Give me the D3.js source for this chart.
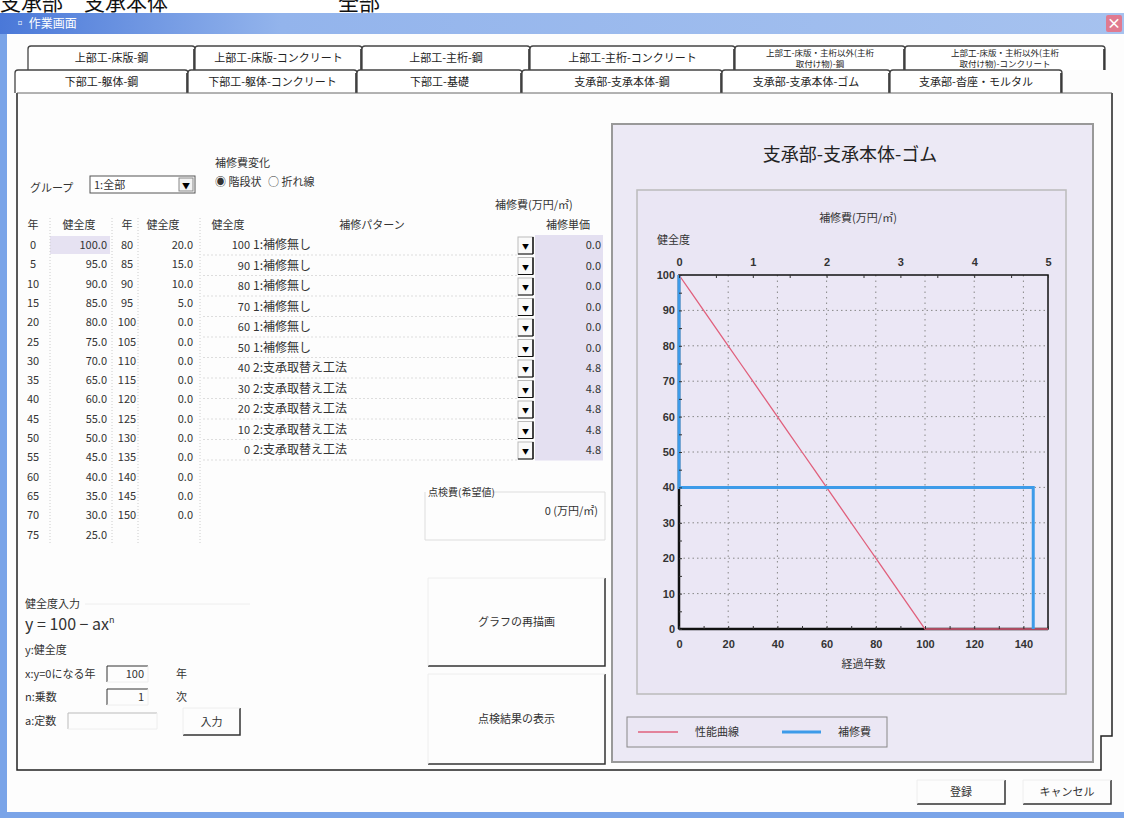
<!DOCTYPE html>
<html>
<head>
<meta charset="utf-8">
<script src="https://cdn.jsdelivr.net/npm/d3@7"></script>
<style>
  body { margin: 0; background: #fff; }
  svg { display: block; font-family: "Noto Sans CJK JP", "Noto Sans", sans-serif; }
  .ui { font-size: 11px; fill: #333; }
</style>
</head>
<body>
<div id="chart"></div>
<script>
// 健全度の推移（年・健全度）
const years = [0, 5, 10, 15, 20, 25, 30, 35, 40, 45, 50, 55, 60, 65, 70, 75,
               80, 85, 90, 95, 100, 105, 110, 115, 120, 125, 130, 135, 140, 145, 150];
const health = [100, 95, 90, 85, 80, 75, 70, 65, 60, 55, 50, 45, 40, 35, 30, 25,
                20, 15, 10, 5, 0, 0, 0, 0, 0, 0, 0, 0, 0, 0, 0];

// 補修パターン
const repairLevels = [100, 90, 80, 70, 60, 50, 40, 30, 20, 10, 0];
const repairPatterns = ["1:補修無し", "1:補修無し", "1:補修無し", "1:補修無し", "1:補修無し", "1:補修無し",
                        "2:支承取替え工法", "2:支承取替え工法", "2:支承取替え工法", "2:支承取替え工法", "2:支承取替え工法"];
const repairCosts = [0, 0, 0, 0, 0, 0, 4.8, 4.8, 4.8, 4.8, 4.8];

// 軸の目盛
const yearTicks = [0, 20, 40, 60, 80, 100, 120, 140];
const costTicks = [0, 1, 2, 3, 4, 5];
const healthTicks = [0, 10, 20, 30, 40, 50, 60, 70, 80, 90, 100];

// タブ
const tabsRow1 = ["上部工-床版-鋼", "上部工-床版-コンクリート", "上部工-主桁-鋼", "上部工-主桁-コンクリート",
                  ["上部工-床版・主桁以外(主桁", "取付け物)-鋼"], ["上部工-床版・主桁以外(主桁", "取付け物)-コンクリート"]];
const tabsRow2 = ["下部工-躯体-鋼", "下部工-躯体-コンクリート", "下部工-基礎", "支承部-支承本体-鋼",
                  "支承部-支承本体-ゴム", "支承部-沓座・モルタル"];

const W = 1124, H = 818;
const svg = d3.select("#chart").append("svg").attr("width", W).attr("height", H);
const defs = svg.append("defs");

// 上部の切れた見出し
svg.append("text").attr("x", 0).attr("y", 10).attr("font-size", 21).attr("fill", "#111")
   .text("支承部　支承本体");
svg.append("text").attr("x", 338).attr("y", 10).attr("font-size", 21).attr("fill", "#111")
   .text("全部");

// ウィンドウ枠
const tg = defs.append("linearGradient").attr("id", "title").attr("x1", 0).attr("x2", 1);
tg.append("stop").attr("offset", "0").attr("stop-color", "#4a78d8");
tg.append("stop").attr("offset", "0.25").attr("stop-color", "#93b4ec");
tg.append("stop").attr("offset", "1").attr("stop-color", "#a6c2ef");
svg.append("rect").attr("x", 0).attr("y", 13).attr("width", W).attr("height", 21).attr("fill", "url(#title)");
svg.append("rect").attr("x", 0).attr("y", 34).attr("width", 7).attr("height", H - 34).attr("fill", "#7aa4e8");
svg.append("rect").attr("x", 0).attr("y", 812).attr("width", W).attr("height", 6).attr("fill", "#7aa4e8");
svg.append("rect").attr("x", 7).attr("y", 34).attr("width", W - 7).attr("height", 778).attr("fill", "#fdfdfd");
svg.append("text").attr("x", 14).attr("y", 28).attr("font-size", 12).attr("fill", "#fff").text("▫ 作業画面");
svg.append("rect").attr("x", 1106).attr("y", 15).attr("width", 16).attr("height", 17).attr("rx", 2).attr("fill", "#e07a90");
svg.append("text").attr("x", 1114).attr("y", 28).attr("font-size", 14).attr("font-weight", "bold")
   .attr("text-anchor", "middle").attr("fill", "#fff").text("×");

// タブ
function drawTabs(labels, xs, y0, y1) {
  labels.forEach((lab, i) => {
    const x0 = xs[i], x1 = xs[i + 1];
    svg.append("path")
      .attr("d", `M${x0},${y1} L${x0},${y0 + 3} Q${x0},${y0} ${x0 + 3},${y0} L${x1 - 3},${y0} Q${x1},${y0} ${x1},${y0 + 3} L${x1},${y1}`)
      .attr("fill", "#fff").attr("stroke", "#444").attr("stroke-width", 1.3);
    svg.append("line").attr("x1", x1 - 1).attr("x2", x1 - 1).attr("y1", y0 + 3).attr("y2", y1)
      .attr("stroke", "#222").attr("stroke-width", 1.5);
    const lines = Array.isArray(lab) ? lab : [lab];
    lines.forEach((t, j) => {
      svg.append("text").attr("class", "ui").attr("x", (x0 + x1) / 2)
        .attr("y", lines.length === 1 ? (y0 + y1) / 2 + 4 : y0 + 10 + j * 11)
        .attr("text-anchor", "middle").style("font-size", lines.length === 1 ? "11px" : "8.5px")
        .style("fill", "#222").text(t);
    });
  });
}
drawTabs(tabsRow1, [28, 195, 362, 530, 735, 905, 1105], 46, 70);
drawTabs(tabsRow2, [15, 188, 357, 522, 722, 890, 1062], 70, 93);

// タブパネル枠
svg.append("path").attr("d", "M17,93 L17,770 L1101,770 L1101,736 L1112,736 L1112,93")
   .attr("fill", "none").attr("stroke", "#222").attr("stroke-width", 1.5);
svg.append("line").attr("x1", 17).attr("x2", 1112).attr("y1", 93).attr("y2", 93).attr("stroke", "#666");

// グループ・補修費変化
svg.append("text").attr("class", "ui").attr("x", 30).attr("y", 192).text("グループ");
svg.append("rect").attr("x", 90).attr("y", 176).attr("width", 105).attr("height", 17)
   .attr("fill", "#fff").attr("stroke", "#555");
svg.append("text").attr("class", "ui").attr("x", 94).attr("y", 189).text("1:全部");
svg.append("rect").attr("x", 179).attr("y", 178).attr("width", 14).attr("height", 13).attr("fill", "#f3f3f3").attr("stroke", "#888");
svg.append("text").attr("x", 186).attr("y", 189).attr("font-size", 8).attr("text-anchor", "middle").text("▼");
svg.append("text").attr("class", "ui").attr("x", 215).attr("y", 167).text("補修費変化");
svg.append("text").attr("class", "ui").attr("x", 215).attr("y", 186).text("◉ 階段状");
svg.append("text").attr("class", "ui").attr("x", 268).attr("y", 186).text("○ 折れ線");
svg.append("text").attr("class", "ui").attr("x", 495).attr("y", 209).text("補修費(万円/㎡)");

// 健全度表
const rowH = 19.3, row0 = 245;
const rowH2 = 20.5;
const hdrY = 229;
[["年", 33, "middle"], ["健全度", 79, "middle"], ["年", 127, "middle"], ["健全度", 163, "middle"],
 ["健全度", 228, "middle"], ["補修パターン", 372, "middle"], ["補修単価", 568, "middle"]]
  .forEach(([t, x, a]) => svg.append("text").attr("class", "ui").attr("x", x).attr("y", hdrY)
    .attr("text-anchor", a).text(t));

const tbl = svg.append("g");
const split = 16;
years.forEach((yr, i) => {
  const col = i < split ? 0 : 1;
  const r = col === 0 ? i : i - split;
  const cy = row0 + r * rowH;
  const yx = col === 0 ? 33 : 127, vx = col === 0 ? 107 : 193;
  if (i === 0) tbl.append("rect").attr("x", 50).attr("y", cy - 9).attr("width", 60).attr("height", 18).attr("fill", "#e6e2f2");
  tbl.append("text").attr("class", "ui").attr("x", yx).attr("y", cy + 4).attr("text-anchor", "middle").text(yr);
  tbl.append("text").attr("class", "ui").attr("x", vx).attr("y", cy + 4).attr("text-anchor", "end").text(health[i].toFixed(1));
});
[50, 112, 138, 200].forEach(x => tbl.append("line").attr("x1", x).attr("x2", x)
  .attr("y1", 218).attr("y2", row0 + 15.5 * rowH).attr("stroke", "#ccc").attr("stroke-dasharray", "1,2"));

// 補修パターン表
svg.append("rect").attr("x", 535).attr("y", row0 - 10).attr("width", 68).attr("height", repairLevels.length * rowH2)
   .attr("fill", "#e4e0f1");
repairLevels.forEach((lv, i) => {
  const cy = row0 + i * rowH2;
  svg.append("text").attr("class", "ui").attr("x", 250).attr("y", cy + 4).attr("text-anchor", "end").text(lv);
  svg.append("text").attr("class", "ui").attr("x", 253).attr("y", cy + 4).style("font-size", "12px").text(repairPatterns[i]);
  svg.append("line").attr("x1", 203).attr("x2", 518).attr("y1", cy + 10).attr("y2", cy + 10)
     .attr("stroke", "#ddd").attr("stroke-dasharray", "2,2");
  svg.append("rect").attr("x", 518).attr("y", cy - 8).attr("width", 15).attr("height", 17)
     .attr("fill", "#fafafa").attr("stroke", "#bbb");
  svg.append("text").attr("x", 525.5).attr("y", cy + 4).attr("font-size", 7).attr("text-anchor", "middle").text("▼");
  svg.append("line").attr("x1", 533).attr("x2", 533).attr("y1", cy - 8).attr("y2", cy + 9).attr("stroke", "#111").attr("stroke-width", 1.5);
  svg.append("line").attr("x1", 518).attr("x2", 533).attr("y1", cy + 9).attr("y2", cy + 9).attr("stroke", "#111");
  svg.append("text").attr("class", "ui").attr("x", 601).attr("y", cy + 4).attr("text-anchor", "end").text(repairCosts[i].toFixed(1));
});

// 点検費
svg.append("path").attr("d", "M425,492 L425,540 L605,540 L605,492 L492,492").attr("fill", "none").attr("stroke", "#ddd");
svg.append("text").attr("class", "ui").attr("x", 428).attr("y", 496).style("font-size", "10px").text("点検費(希望値)");
svg.append("text").attr("class", "ui").attr("x", 598).attr("y", 515).attr("text-anchor", "end").text("0 (万円/㎡)");

// ボタン
function button(x0, y0, x1, y1, label) {
  svg.append("path").attr("d", `M${x0},${y1} L${x1},${y1} L${x1},${y0}`).attr("fill", "none").attr("stroke", "#333").attr("stroke-width", 1.5);
  svg.append("path").attr("d", `M${x0},${y1} L${x0},${y0} L${x1},${y0}`).attr("fill", "none").attr("stroke", "#eee");
  svg.append("text").attr("class", "ui").attr("x", (x0 + x1) / 2).attr("y", (y0 + y1) / 2 + 4)
     .attr("text-anchor", "middle").text(label);
}
button(428, 578, 605, 666, "グラフの再描画");
button(428, 674, 605, 764, "点検結果の表示");
button(917, 780, 1005, 804, "登録");
button(1023, 780, 1111, 804, "キャンセル");

// 健全度入力
svg.append("text").attr("class", "ui").attr("x", 25).attr("y", 608).text("健全度入力");
svg.append("line").attr("x1", 85).attr("x2", 250).attr("y1", 604).attr("y2", 604).attr("stroke", "#eee");
const f = svg.append("text").attr("x", 25).attr("y", 630).attr("font-size", 16).attr("fill", "#333");
f.append("tspan").text("y = 100 − ax");
f.append("tspan").attr("font-size", 9).attr("dy", -7).text("n");
svg.append("text").attr("class", "ui").attr("x", 25).attr("y", 654).text("y:健全度");
svg.append("text").attr("class", "ui").attr("x", 25).attr("y", 678).text("x:y=0になる年");
svg.append("text").attr("class", "ui").attr("x", 25).attr("y", 701).text("n:乗数");
svg.append("text").attr("class", "ui").attr("x", 25).attr("y", 725).text("a:定数");
function inputBox(x0, x1, cy, val, unit, disabled) {
  svg.append("path").attr("d", `M${x0},${cy + 8} L${x0},${cy - 8} L${x1},${cy - 8}`).attr("fill", "none")
     .attr("stroke", disabled ? "#bbb" : "#333");
  svg.append("path").attr("d", `M${x0},${cy + 8} L${x1},${cy + 8} L${x1},${cy - 8}`).attr("fill", "none").attr("stroke", "#eee");
  if (val) svg.append("text").attr("class", "ui").attr("x", x1 - 4).attr("y", cy + 4).attr("text-anchor", "end").text(val);
  if (unit) svg.append("text").attr("class", "ui").attr("x", x1 + 28).attr("y", cy + 4).text(unit);
}
inputBox(107, 148, 674, "100", "年");
inputBox(107, 148, 697, "1", "次");
inputBox(68, 157, 721, "", "", true);
button(183, 708, 240, 735, "入力");

// グラフパネル
svg.append("rect").attr("x", 612).attr("y", 124).attr("width", 481).attr("height", 638)
   .attr("fill", "#ece9f5").attr("stroke", "#999").attr("stroke-width", 2);
svg.append("text").attr("x", 850).attr("y", 161).attr("text-anchor", "middle").attr("font-size", 18)
   .attr("fill", "#222").text("支承部-支承本体-ゴム");
svg.append("rect").attr("x", 637).attr("y", 190).attr("width", 429).attr("height", 504)
   .attr("fill", "#eae6f4").attr("stroke", "#bbb").attr("stroke-width", 1.5);

const x = d3.scaleLinear().domain([0, 150]).range([679, 1048]);
const xTop = d3.scaleLinear().domain([0, 5]).range([679, 1048]);
const y = d3.scaleLinear().domain([0, 100]).range([629, 275]);

const plot = svg.append("g");
plot.append("rect").attr("x", x(0)).attr("y", y(100)).attr("width", x(150) - x(0)).attr("height", y(0) - y(100))
    .attr("fill", "#ebe7f5");

// グリッド
plot.append("g").selectAll("line").data(healthTicks.slice(1, -1)).join("line")
    .attr("x1", x(0)).attr("x2", x(150)).attr("y1", d => y(d)).attr("y2", d => y(d))
    .attr("stroke", "#888").attr("stroke-dasharray", "1.5,3");
plot.append("g").selectAll("line").data(yearTicks.slice(1)).join("line")
    .attr("x1", d => x(d)).attr("x2", d => x(d)).attr("y1", y(100)).attr("y2", y(0))
    .attr("stroke", "#888").attr("stroke-dasharray", "1.5,4");

// 軸
function styleAxis(g) {
  g.select(".domain").remove();
  g.selectAll("text").attr("font-size", 11).attr("fill", "#333")
   .attr("font-family", "'Liberation Sans', sans-serif").attr("font-weight", "bold");
  g.selectAll("line").attr("stroke", "#333");
}
svg.append("g").attr("transform", `translate(0,${y(0)})`)
   .call(d3.axisBottom(x).tickValues(d3.range(0, 151, 10)).tickSize(-3).tickFormat(() => ""))
   .call(styleAxis);
svg.append("g").attr("transform", `translate(0,${y(0)})`)
   .call(d3.axisBottom(x).tickValues(yearTicks).tickSize(0).tickPadding(11))
   .call(styleAxis);
svg.append("g").attr("transform", `translate(0,${y(100)})`)
   .call(d3.axisTop(xTop).tickValues(d3.range(0, 5.01, 0.5)).tickSize(-3).tickFormat(() => ""))
   .call(styleAxis);
svg.append("g").attr("transform", `translate(0,${y(100)})`)
   .call(d3.axisTop(xTop).tickValues(costTicks).tickSize(0).tickPadding(9).tickFormat(d3.format("d")))
   .call(styleAxis);
svg.append("g").attr("transform", `translate(${x(0)},0)`)
   .call(d3.axisLeft(y).tickValues(d3.range(0, 101, 5)).tickSize(-3).tickFormat(() => ""))
   .call(styleAxis);
svg.append("g").attr("transform", `translate(${x(0)},0)`)
   .call(d3.axisLeft(y).tickValues(healthTicks).tickSize(0).tickPadding(4))
   .call(styleAxis);

// 枠
plot.append("rect").attr("x", x(0)).attr("y", y(100)).attr("width", x(150) - x(0)).attr("height", y(0) - y(100))
    .attr("fill", "none").attr("stroke", "#111").attr("stroke-width", 1.5);
plot.append("line").attr("x1", x(0)).attr("x2", x(150)).attr("y1", y(0)).attr("y2", y(0)).attr("stroke", "#111").attr("stroke-width", 2.5);
plot.append("line").attr("x1", x(0)).attr("x2", x(0)).attr("y1", y(100)).attr("y2", y(0)).attr("stroke", "#111").attr("stroke-width", 2.5);

// 軸タイトル
svg.append("text").attr("class", "ui").attr("x", 858).attr("y", 222).attr("text-anchor", "middle").text("補修費(万円/㎡)");
svg.append("text").attr("class", "ui").attr("x", 657).attr("y", 244).text("健全度");
svg.append("text").attr("class", "ui").attr("x", (x(0) + x(150)) / 2).attr("y", 668).attr("text-anchor", "middle").text("経過年数");

// 性能曲線
const perf = years.map((yr, i) => [yr, health[i]]);
plot.append("path").datum(perf)
    .attr("d", d3.line().x(d => x(d[0])).y(d => y(d[1])))
    .attr("fill", "none").attr("stroke", "#e0607c").attr("stroke-width", 1.3);

// 補修費（階段状）
const cost = repairLevels.map((lv, i) => [repairCosts[i], lv]);
plot.append("path").datum(cost)
    .attr("d", d3.line().x(d => xTop(d[0])).y(d => y(d[1])).curve(d3.curveStepBefore))
    .attr("fill", "none").attr("stroke", "#3d9be9").attr("stroke-width", 3);

// 凡例
const lg = svg.append("g");
lg.append("rect").attr("x", 627).attr("y", 717).attr("width", 260).attr("height", 30)
  .attr("fill", "#ebe7f4").attr("stroke", "#888");
lg.append("line").attr("x1", 638).attr("x2", 678).attr("y1", 732).attr("y2", 732).attr("stroke", "#e0607c").attr("stroke-width", 1.3);
lg.append("text").attr("class", "ui").attr("x", 695).attr("y", 736).text("性能曲線");
lg.append("line").attr("x1", 782).attr("x2", 821).attr("y1", 732).attr("y2", 732).attr("stroke", "#3d9be9").attr("stroke-width", 3);
lg.append("text").attr("class", "ui").attr("x", 838).attr("y", 736).text("補修費");
</script>
</body>
</html>
